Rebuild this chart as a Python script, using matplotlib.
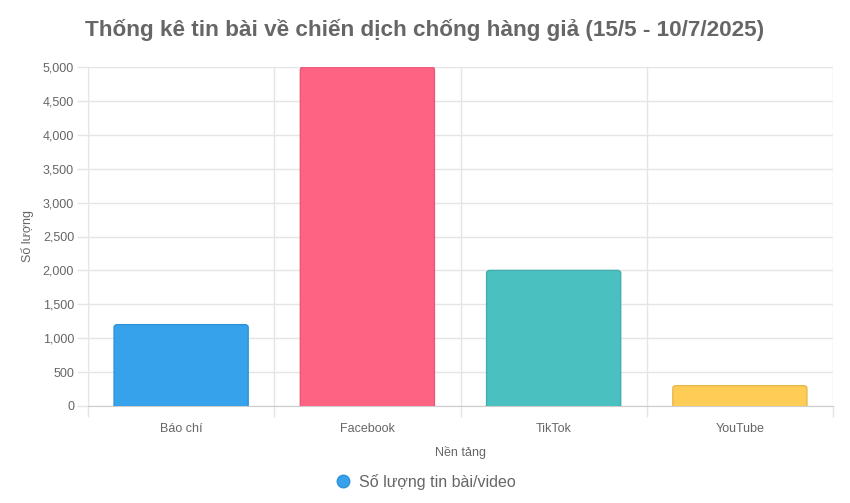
import matplotlib
matplotlib.use("Agg")
import matplotlib.pyplot as plt
from matplotlib.lines import Line2D
from matplotlib.patches import FancyBboxPatch
import numpy as np

categories = ["Báo chí", "Facebook", "TikTok", "YouTube"]
values = [1200, 5000, 2000, 300]
colors = ["#36A2EB", "#FF6384", "#4BC0C0", "#FFCD56"]
edge_colors = ["#2F92D6", "#E8587A", "#44AEAE", "#E6B84D"]
y_ticks = [0, 500, 1000, 1500, 2000, 2500, 3000, 3500, 4000, 4500, 5000]

title = "Thống kê tin bài về chiến dịch chống hàng giả (15/5 - 10/7/2025)"
x_label = "Nền tảng"
y_label = "Số lượng"
legend_label = "Số lượng tin bài/video"

plt.rcParams['font.family'] = ['Liberation Sans', 'DejaVu Sans']
text_color = "#666666"
grid_color = "#E5E5E5"

fig = plt.figure(figsize=(8.5, 5.03), dpi=100)
ax = fig.add_axes([88/850, 1-406/503, (833-88)/850, (406-67)/503])

ax.set_xlim(-0.5, len(categories) - 0.5)
ax.set_ylim(0, 5000)

x = np.arange(len(categories))
bars = ax.bar(x, values, width=0.72, color=colors, edgecolor=edge_colors, linewidth=1, zorder=3)

# replace bars with rounded-top versions (bottom extended below axis and clipped)
rx = 0.018
ry = 260
for b, fc, ec in zip(bars, colors, edge_colors):
    x0, w, h = b.get_x(), b.get_width(), b.get_height()
    b.remove()
    p = FancyBboxPatch((x0, -ry), w, h + ry,
                       boxstyle=f"round,pad=0,rounding_size={rx}",
                       mutation_aspect=ry / rx / 6,
                       facecolor=fc, edgecolor=ec, linewidth=1, zorder=3)
    ax.add_patch(p)

ax.set_yticks(y_ticks)
ax.set_yticklabels([f"{v:,}" for v in y_ticks])
ax.set_xticks(x)
ax.set_xticklabels(categories)
ax.set_xticks(np.arange(len(categories) + 1) - 0.5, minor=True)

ax.tick_params(axis='x', which='major', length=0, pad=12, labelsize=9, labelcolor=text_color)
ax.tick_params(axis='x', which='minor', length=8, color=grid_color, width=1)
ax.tick_params(axis='y', which='major', length=8, color=grid_color, width=1, pad=2, labelsize=9, labelcolor=text_color)

ax.grid(True, axis='y', which='major', color=grid_color, linewidth=1, zorder=0)
ax.grid(True, axis='x', which='minor', color=grid_color, linewidth=1, zorder=0)

for s in ['top', 'right']:
    ax.spines[s].set_visible(False)
ax.spines['left'].set_color(grid_color)
ax.spines['bottom'].set_color("#CCCCCC")

ax.set_xlabel(x_label, fontsize=9, color=text_color, labelpad=8)
ax.set_ylabel(y_label, fontsize=9, color=text_color, labelpad=6)

fig.text(0.5, 1-30/503, title, ha='center', va='center', fontsize=16.2, fontweight='bold', color=text_color)

handle = Line2D([], [], marker='o', linestyle='none', markersize=9,
                markerfacecolor=colors[0], markeredgecolor=edge_colors[0])
fig.legend([handle], [legend_label], loc='center', bbox_to_anchor=(0.5, 1-482/503),
           frameon=False, fontsize=11.5, labelcolor=text_color,
           handlelength=1.0, handletextpad=0.5)

fig.savefig("out.png", dpi=100, facecolor="white")
